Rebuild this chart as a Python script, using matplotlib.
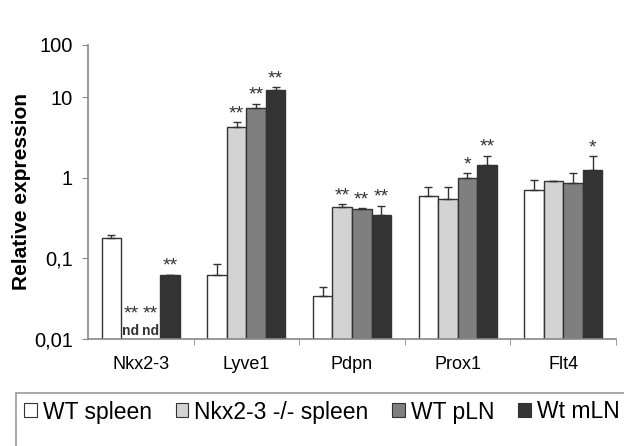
import numpy as np
import matplotlib
matplotlib.use('Agg')
import matplotlib.pyplot as plt
from matplotlib.patches import Rectangle, Patch

plt.rcParams['font.family'] = ['Liberation Sans', 'DejaVu Sans']

genes = ['Nkx2-3', 'Lyve1', 'Pdpn', 'Prox1', 'Flt4']
groups = ['WT spleen', 'Nkx2-3 -/- spleen', 'WT pLN', 'Wt mLN']
colors = ['#ffffff', '#d3d3d3', '#7f7f7f', '#333333']

# mean values per group (0 = not detected)
wt_spleen = [0.179, 0.063, 0.034, 0.60, 0.71]
ko_spleen = [0, 4.28, 0.434, 0.556, 0.91]
wt_pln = [0, 7.36, 0.41, 1.0, 0.87]
wt_mln = [0.0615, 13.8, 0.345, 1.43, 1.26]
# upper error bar ends
wt_spleen_err = [0.195, 0.085, 0.044, 0.78, 0.95]
ko_spleen_err = [0, 4.9, 0.47, 0.78, 0.93]
wt_pln_err = [0, 8.35, 0.42, 1.14, 1.15]
wt_mln_err = [0.063, 15.8, 0.45, 1.9, 1.85]
# significance marks
stars = [['', '**', '**', '**'],
         ['', '**', '**', '**'],
         ['', '**', '**', '**'],
         ['', '', '*', '**'],
         ['', '', '', '*']]
ytick_vals = [0.01, 0.1, 1, 10, 100]
ytick_labels = ['0,01', '0,1', '1', '10', '100']

values = [wt_spleen, ko_spleen, wt_pln, wt_mln]
tops = [wt_spleen_err, ko_spleen_err, wt_pln_err, wt_mln_err]


# the picture squeezes the top decade (10-100)
def fwd(v):
    l = np.log10(np.clip(np.asarray(v, dtype=float), 1e-10, None))
    return np.where(l > 1, 1 + (l - 1) * 0.652, l)


def inv(t):
    t = np.asarray(t, dtype=float)
    return np.where(t > 1, 10 ** (1 + (t - 1) / 0.652), 10 ** t)


fig = plt.figure(figsize=(6.24, 4.46), dpi=100)
ax = fig.add_axes([88 / 624, 1 - 339 / 446, 528 / 624, 294 / 446])
ax.set_yscale('function', functions=(fwd, inv))

x = np.arange(len(genes))
w = 0.185
for i in range(4):
    xs = x + (i - 1.5) * w
    v = np.array(values[i])
    ax.bar(xs, v, w, color=colors[i], edgecolor='#333333', linewidth=1.0, zorder=2)
    t = np.array(tops[i])
    up = np.clip(t - v, 0, None)
    m = v > 0
    ax.errorbar(xs[m], v[m], yerr=[np.zeros(m.sum()), up[m]], fmt='none',
                ecolor='#333333', elinewidth=1.0, capsize=3, capthick=1.0, zorder=3)
    for j in range(len(genes)):
        s = stars[j][i]
        if s and v[j] > 0:
            ax.annotate(s, (xs[j], t[j]), xytext=(0, 0), textcoords='offset points',
                        ha='center', va='bottom', fontsize=14, color='#333333')

# not detected bars in Nkx2-3
for i in (1, 2):
    xs = x[0] + (i - 1.5) * w
    ax.annotate('nd', (xs, 0.01), xytext=(0, 0.5), textcoords='offset points',
                ha='center', va='bottom', fontsize=10, fontweight='bold', color='#333333')
    ax.annotate('**', (xs, 0.01), xytext=(0, 12), textcoords='offset points',
                ha='center', va='bottom', fontsize=14, color='#333333')

ax.set_ylim(0.01, 100)
ax.set_xlim(-0.5, len(genes) - 0.5)
ax.set_yticks(ytick_vals)
ax.set_yticklabels(ytick_labels, fontsize=14.5)
ax.minorticks_off()
ax.set_xticks(x)
ax.set_xticklabels(genes, fontsize=13)
ax.set_xticks(np.arange(len(genes)) + 0.5, minor=True)
ax.tick_params(axis='x', which='major', length=0, pad=12)
ax.tick_params(axis='x', which='minor', length=4, color='#888888', direction='out')
ax.tick_params(axis='y', length=4, color='#888888', direction='out', pad=7)
for sp in ['top', 'right']:
    ax.spines[sp].set_visible(False)
for sp in ['left', 'bottom']:
    ax.spines[sp].set_color('#888888')
    ax.spines[sp].set_linewidth(1.2)
ax.set_ylabel('Relative expression', fontsize=15, fontweight='bold')
ax.yaxis.set_label_coords(-0.108, 0.5)

# legend box, runs off the figure like the source
fig.patches.append(Rectangle((16 / 624, -0.1), 1.0, 1 - 393 / 446 + 0.1,
                             transform=fig.transFigure, fill=False,
                             edgecolor='#999999', linewidth=1.2))
handles = [Patch(facecolor=c, edgecolor='#333333', linewidth=0.8) for c in colors]
fig.legend(handles, groups, loc='center left', bbox_to_anchor=(13 / 624, 1 - 412 / 446),
           ncol=4, frameon=False, fontsize=16.5, handlelength=0.55, handleheight=0.55,
           handletextpad=0.25, columnspacing=1.05, borderpad=0)

fig.savefig('out.png', dpi=100)
